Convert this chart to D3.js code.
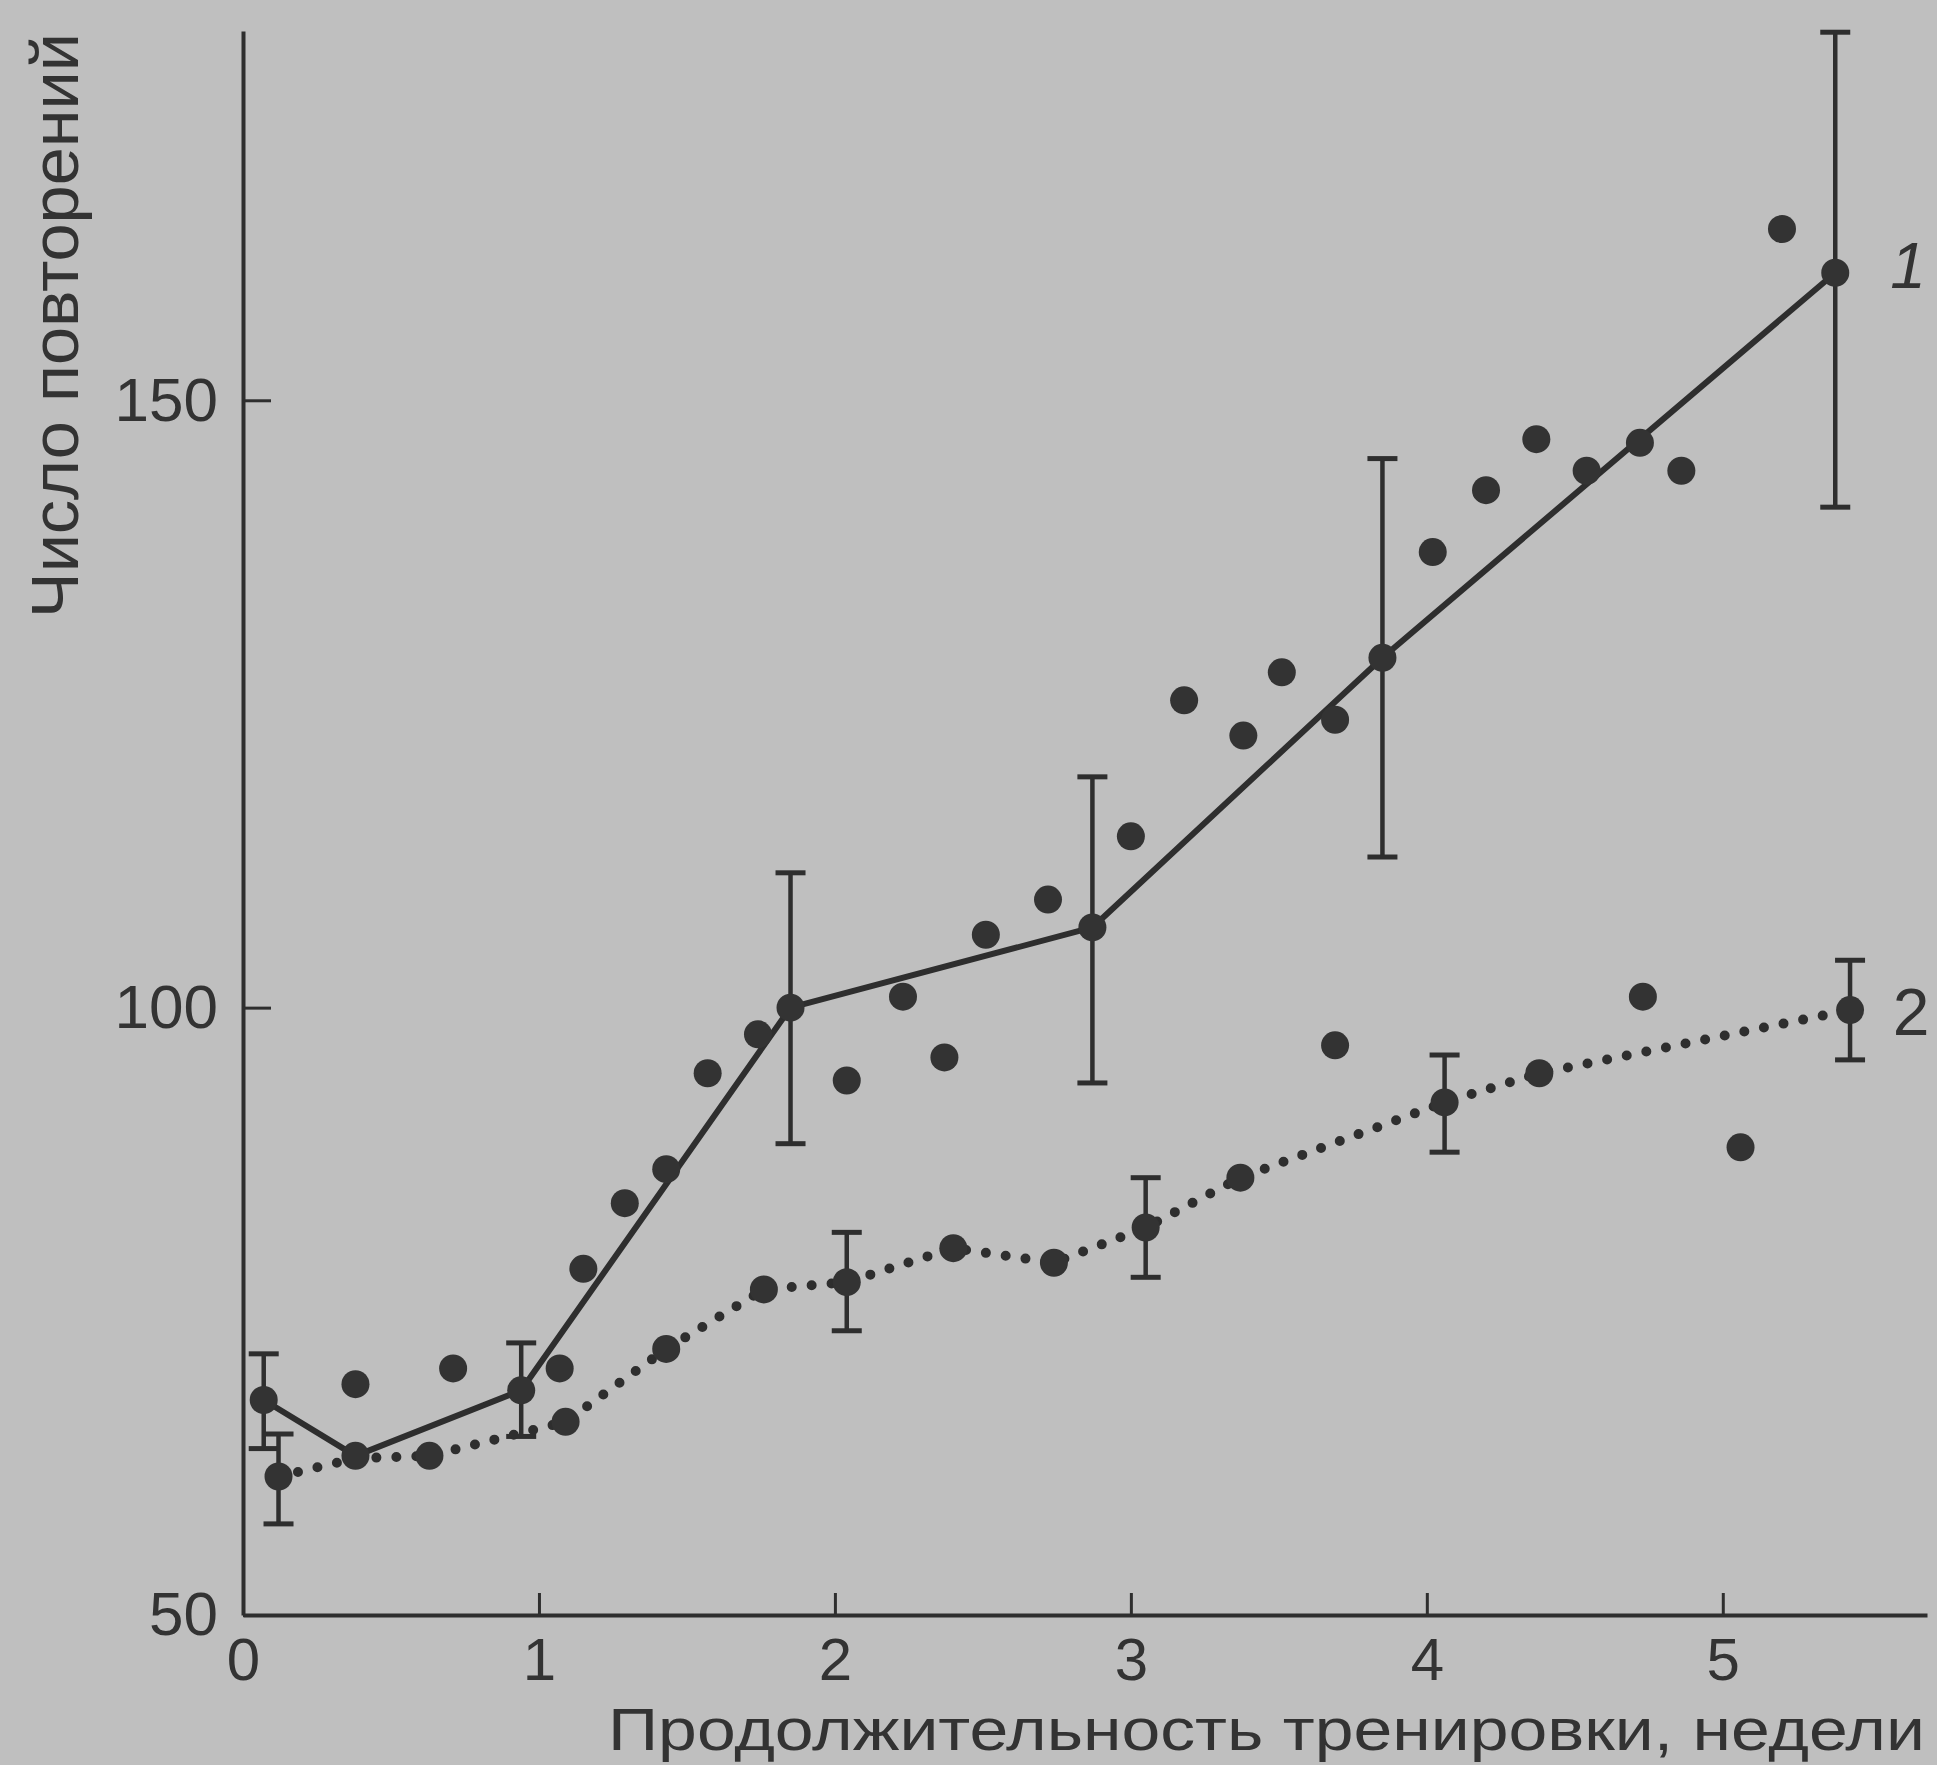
<!DOCTYPE html>
<html>
<head>
<meta charset="utf-8">
<script src="https://cdn.jsdelivr.net/npm/d3@7"></script>
<style>
  body { margin: 0; background: #bfbfbf; }
  svg { display: block; }
  text { font-family: "Liberation Sans", Arial, sans-serif; fill: #333; }
</style>
</head>
<body>
<svg id="chart" width="1937" height="1765"></svg>
<script>
// weeks of training, repetitions
var line1Weeks = [0.07, 0.38, 0.94, 1.85, 2.87, 3.85, 5.38];
var line1Reps  = [67.7, 63.1, 68.5, 100.0, 106.6, 128.8, 160.5];

var err1Weeks = [0.07, 0.94, 1.85, 2.87, 3.85, 5.38];
var err1Hi    = [71.5, 72.4, 111.1, 119.0, 145.2, 180.3];
var err1Lo    = [63.7, 64.7, 88.8, 93.8, 112.4, 141.2];

var line2Weeks = [0.12, 0.38, 0.63, 1.09, 1.43, 1.76, 2.04, 2.40, 2.74, 3.05, 3.37, 4.06, 4.38, 5.43];
var line2Reps  = [61.4, 62.9, 63.1, 65.9, 71.9, 76.8, 77.4, 80.2, 79.0, 81.9, 86.0, 92.2, 94.6, 99.8];

var err2Weeks = [0.12, 2.04, 3.05, 4.06, 5.43];
var err2Hi    = [64.9, 81.5, 86.0, 96.1, 103.9];
var err2Lo    = [57.5, 73.4, 77.8, 88.1, 95.7];

var dotWeeks = [0.38, 0.71, 1.07, 1.15, 1.29, 1.43, 1.57, 1.74, 2.04, 2.23, 2.37, 2.51, 2.72, 3.00,
                3.18, 3.38, 3.51, 3.69, 3.69, 4.02, 4.20, 4.37, 4.54, 4.72, 4.73, 4.86, 5.06, 5.20];
var dotReps  = [69.0, 70.3, 70.3, 78.5, 83.9, 86.7, 94.6, 97.8, 94.0, 100.9, 95.9, 106.0, 108.9, 114.1,
                125.3, 122.4, 127.6, 123.7, 96.9, 137.5, 142.6, 146.8, 144.2, 146.5, 100.9, 144.2, 88.5, 164.1];

var xTicks = [0, 1, 2, 3, 4, 5];
var yTicks = [50, 100, 150];

var xTitle = "Продолжительность тренировки, недели";
var yTitle = "Число повторений";

var ink = "#2e2e2e";
var svg = d3.select("#chart");

svg.append("rect").attr("width", 1937).attr("height", 1765).attr("fill", "#bfbfbf");

var x = d3.scaleLinear().domain([0, 5.69]).range([243, 1927]);
var y = d3.scaleLinear().domain([50, 180.4]).range([1615, 31]);

function zip(a, b) { return a.map((v, i) => [v, b[i]]); }

// axes
var xAxis = svg.append("g")
    .attr("transform", "translate(0,1615)")
    .call(d3.axisBottom(x).tickValues(xTicks).tickSize(-22).tickSizeOuter(0).tickPadding(22)
        .tickFormat(d3.format("d")));
var yAxis = svg.append("g")
    .attr("transform", "translate(243,0)")
    .call(d3.axisLeft(y).tickValues(yTicks).tickSize(-28).tickSizeOuter(0).tickPadding(25));

[xAxis, yAxis].forEach(g => {
    g.select(".domain").attr("stroke", ink).attr("stroke-width", 4);
    g.selectAll(".tick line").attr("stroke", ink).attr("stroke-width", 3);
    g.selectAll(".tick text").attr("fill", "#333").style("font-size", "62px")
        .style("font-family", "'Liberation Sans', Arial, sans-serif");
});
xAxis.selectAll(".tick text").attr("dy", "0.72em").style("font-size", "60px");

// lines
var line = d3.line().x(d => x(d[0])).y(d => y(d[1]));

svg.append("path")
    .datum(zip(line2Weeks, line2Reps))
    .attr("d", line)
    .attr("fill", "none")
    .attr("stroke", ink)
    .attr("stroke-width", 10)
    .attr("stroke-linecap", "round")
    .attr("stroke-dasharray", "0,20");

svg.append("path")
    .datum(zip(line1Weeks, line1Reps))
    .attr("d", line)
    .attr("fill", "none")
    .attr("stroke", ink)
    .attr("stroke-width", 6)
    .attr("stroke-linejoin", "round");

// error bars
function drawErrors(weeks, hi, lo) {
    var g = svg.append("g").attr("stroke", ink);
    var data = weeks.map((w, i) => ({ w: w, hi: hi[i], lo: lo[i] }));
    g.selectAll("line.v").data(data).enter().append("line")
        .attr("x1", d => x(d.w)).attr("x2", d => x(d.w))
        .attr("y1", d => y(d.hi)).attr("y2", d => y(d.lo))
        .attr("stroke-width", 4.5);
    g.selectAll("line.hi").data(data).enter().append("line")
        .attr("x1", d => x(d.w) - 15).attr("x2", d => x(d.w) + 15)
        .attr("y1", d => y(d.hi)).attr("y2", d => y(d.hi))
        .attr("stroke-width", 5);
    g.selectAll("line.lo").data(data).enter().append("line")
        .attr("x1", d => x(d.w) - 15).attr("x2", d => x(d.w) + 15)
        .attr("y1", d => y(d.lo)).attr("y2", d => y(d.lo))
        .attr("stroke-width", 5);
}
drawErrors(err1Weeks, err1Hi, err1Lo);
drawErrors(err2Weeks, err2Hi, err2Lo);

// markers
function drawDots(weeks, reps, r) {
    svg.append("g").selectAll("circle")
        .data(zip(weeks, reps))
        .enter().append("circle")
        .attr("cx", d => x(d[0]))
        .attr("cy", d => y(d[1]))
        .attr("r", r)
        .attr("fill", "#333");
}
drawDots(dotWeeks, dotReps, 14);
drawDots(line1Weeks, line1Reps, 14);
drawDots(err2Weeks, line2Reps.filter((v, i) => err2Weeks.indexOf(line2Weeks[i]) >= 0), 14);
drawDots(line2Weeks.filter(w => err2Weeks.indexOf(w) < 0 && w !== 0.38),
         line2Reps.filter((v, i) => err2Weeks.indexOf(line2Weeks[i]) < 0 && line2Weeks[i] !== 0.38), 14);

// series labels
svg.append("text").attr("x", 1908).attr("y", 288)
    .attr("text-anchor", "middle").style("font-size", "64px").style("font-style", "italic")
    .text("1");
svg.append("text").attr("x", 1911).attr("y", 1035)
    .attr("text-anchor", "middle").style("font-size", "66px")
    .text("2");

// axis titles
svg.append("text").attr("x", 1925).attr("y", 1750)
    .attr("text-anchor", "end").style("font-size", "60px")
    .attr("textLength", 1317).attr("lengthAdjust", "spacingAndGlyphs")
    .text(xTitle);
svg.append("text").attr("transform", "translate(78,618) rotate(-90)")
    .attr("text-anchor", "start").style("font-size", "66px")
    .attr("textLength", 585).attr("lengthAdjust", "spacingAndGlyphs")
    .text(yTitle);
</script>
</body>
</html>
